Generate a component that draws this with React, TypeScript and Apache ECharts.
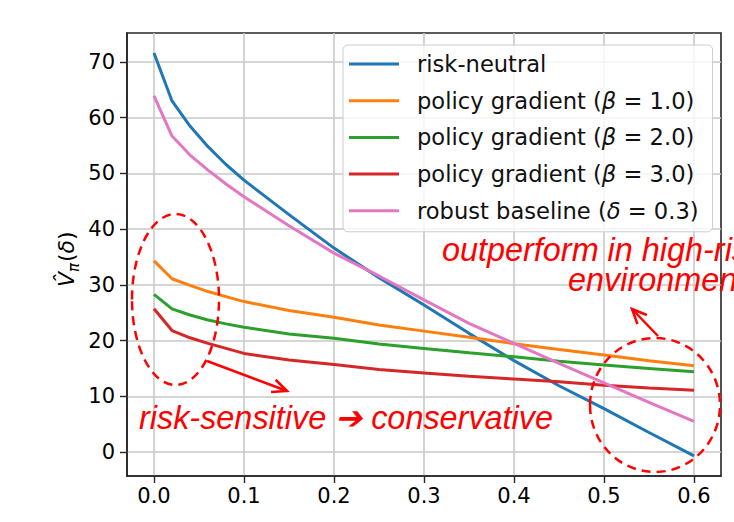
import React, { useEffect, useRef } from 'react';
import * as echarts from 'echarts';

const deltas = [0, 0.02, 0.04, 0.06, 0.08, 0.1, 0.15, 0.2, 0.25, 0.3, 0.35, 0.4, 0.45, 0.5, 0.55, 0.6];
const riskNeutral = [71.6, 63.0, 58.5, 54.8, 51.6, 48.8, 42.6, 36.6, 31.3, 26.4, 21.3, 16.4, 11.9, 7.8, 3.5, -0.7];
const pgBeta1 = [34.3, 31.1, 29.9, 28.8, 27.9, 27.0, 25.4, 24.2, 22.8, 21.7, 20.6, 19.45, 18.4, 17.4, 16.4, 15.5];
const pgBeta2 = [28.3, 25.7, 24.6, 23.7, 23.0, 22.4, 21.2, 20.4, 19.4, 18.6, 17.8, 17.1, 16.3, 15.6, 15.0, 14.4];
const pgBeta3 = [25.7, 21.8, 20.5, 19.5, 18.6, 17.7, 16.5, 15.7, 14.8, 14.2, 13.6, 13.1, 12.6, 12.0, 11.5, 11.1];
const robustBaseline = [63.9, 56.7, 53.3, 50.6, 48.1, 45.8, 40.6, 35.7, 31.6, 27.3, 23.1, 19.5, 15.9, 12.4, 8.9, 5.5];

const seriesNames = [
  'risk-neutral',
  'policy gradient (β = 1.0)',
  'policy gradient (β = 2.0)',
  'policy gradient (β = 3.0)',
  'robust baseline (δ = 0.3)',
];
const seriesValues = [riskNeutral, pgBeta1, pgBeta2, pgBeta3, robustBaseline];
const colors = ['#1f77b4', '#ff7f0e', '#2ca02c', '#d62728', '#e377c2'];

const xTicks = [0, 0.1, 0.2, 0.3, 0.4, 0.5, 0.6];
const yTicks = [0, 10, 20, 30, 40, 50, 60, 70];

const RED = '#ff0000';

function arrow(x1: number, y1: number, x2: number, y2: number) {
  const ang = Math.atan2(y2 - y1, x2 - x1);
  const L = 16;
  const a = 0.42;
  return [
    { type: 'line', z: 100, shape: { x1, y1, x2, y2 }, style: { stroke: RED, lineWidth: 2.5 } },
    {
      type: 'polyline',
      z: 100,
      shape: {
        points: [
          [x2 - L * Math.cos(ang - a), y2 - L * Math.sin(ang - a)],
          [x2, y2],
          [x2 - L * Math.cos(ang + a), y2 - L * Math.sin(ang + a)],
        ],
      },
      style: { stroke: RED, lineWidth: 2.5, fill: 'none' },
    },
  ];
}

function dashedEllipse(cx: number, cy: number, rx: number, ry: number) {
  return {
    type: 'ellipse',
    shape: { cx, cy, rx, ry },
    style: { fill: 'none', stroke: RED, lineWidth: 2.5, lineDash: [9, 6] },
    z: 100,
  };
}

function redText(text: string, x: number, y: number, size: number) {
  return {
    type: 'text',
    x,
    y,
    z: 100,
    style: {
      text,
      fill: RED,
      fontSize: size,
      fontStyle: 'italic',
      fontFamily: '"Liberation Sans", Arial, sans-serif',
      verticalAlign: 'middle',
      align: 'left',
    },
  };
}

export default function App() {
  const ref = useRef<HTMLDivElement>(null);
  useEffect(() => {
    if (!ref.current) return;
    const chart = echarts.init(ref.current, undefined, { renderer: 'svg' });
    const font = 'DejaVu Sans';
    const option: any = {
      animation: false,
      backgroundColor: '#ffffff',
      grid: {
        left: 127,
        right: 13,
        top: 33,
        bottom: 46,
        containLabel: false,
        outerBoundsMode: 'none',
        show: true,
        borderColor: '#262626',
        borderWidth: 1.6,
        backgroundColor: 'transparent',
      },
      xAxis: {
        type: 'value',
        min: -0.03,
        max: 0.63,
        name: 'δ',
        nameLocation: 'middle',
        nameGap: 46,
        nameTextStyle: { fontFamily: font, fontStyle: 'italic', fontSize: 22, color: '#000' },
        axisLine: { show: true, onZero: false, lineStyle: { color: '#262626', width: 1.6 } },
        axisTick: { show: true, inside: false, length: 7, lineStyle: { color: '#262626', width: 1.4 }, customValues: xTicks },
        axisLabel: {
          customValues: xTicks,
          margin: 9,
          fontFamily: font,
          fontSize: 21,
          color: '#000',
          formatter: (v: number) => v.toFixed(1),
        },
        splitLine: { show: true, lineStyle: { color: '#c9c9c9', width: 1.6 } },
      },
      yAxis: {
        type: 'value',
        min: -4.3,
        max: 75.2,
        axisLine: { show: true, onZero: false, lineStyle: { color: '#262626', width: 1.6 } },
        axisTick: { show: true, inside: false, length: 7, lineStyle: { color: '#262626', width: 1.4 }, customValues: yTicks },
        axisLabel: {
          customValues: yTicks,
          margin: 12,
          fontFamily: font,
          fontSize: 21,
          color: '#000',
          formatter: (v: number) => String(Math.round(v)),
        },
        splitLine: { show: true, lineStyle: { color: '#c9c9c9', width: 1.6 } },
      },
      legend: {
        orient: 'vertical',
        left: 343,
        top: 45,
        padding: [6, 14, 8, 6],
        itemWidth: 50,
        itemHeight: 3,
        itemGap: 10.7,
        icon: 'rect',
        backgroundColor: 'rgba(255,255,255,0.8)',
        borderColor: '#cccccc',
        borderWidth: 1,
        borderRadius: 5,
        data: seriesNames,
        formatter: (name: string) => name.replace(/([βδ])/g, '{i|$1}'),
        textStyle: {
          fontFamily: font,
          fontSize: 22.6,
          color: '#111111',
          lineHeight: 26,
          padding: [0, 0, 0, 13],
          rich: {
            i: { fontFamily: font, fontStyle: 'italic', fontSize: 22.6, lineHeight: 26, color: '#111111' },
          },
        },
      },
      series: seriesNames.map((name, i) => ({
        name,
        type: 'line',
        symbol: 'none',
        smooth: false,
        clip: true,
        color: colors[i],
        lineStyle: { color: colors[i], width: 3 },
        data: deltas.map((d, j) => [d, seriesValues[i][j]]),
        z: 2 + i,
      })),
      graphic: [
        {
          type: 'group',
          x: 77,
          y: 287,
          rotation: Math.PI / 2,
          children: [
            {
              type: 'text',
              x: 0,
              y: 0,
              style: { text: 'V\u0302', fontSize: 22, fontFamily: font, fontStyle: 'italic', fill: '#000', verticalAlign: 'bottom' },
            },
            {
              type: 'text',
              x: 15,
              y: 4,
              style: { text: 'π', fontSize: 15, fontFamily: font, fontStyle: 'italic', fill: '#000', verticalAlign: 'bottom' },
            },
            {
              type: 'text',
              x: 25,
              y: 0,
              style: {
                text: '({i|δ})',
                fontSize: 22,
                fontFamily: font,
                fill: '#000',
                verticalAlign: 'bottom',
                rich: { i: { fontSize: 22, fontFamily: font, fontStyle: 'italic', fill: '#000' } },
              },
            },
          ],
        },
        dashedEllipse(175.5, 299.5, 43.5, 85.5),
        dashedEllipse(655, 405, 65, 67),
        ...arrow(207, 361, 287, 391),
        ...arrow(658, 336, 632, 309),
        redText('risk-sensitive ➔ conservative', 139, 418, 32.4),
        redText('outperform in high-risk', 442, 250, 32.4),
        redText('environment', 568, 280, 32.4),
      ],
    };
    chart.setOption(option);
    return () => chart.dispose();
  }, []);
  return <div ref={ref} style={{ position: 'absolute', left: 0, top: 0, width: 734, height: 522 }} />;
}
